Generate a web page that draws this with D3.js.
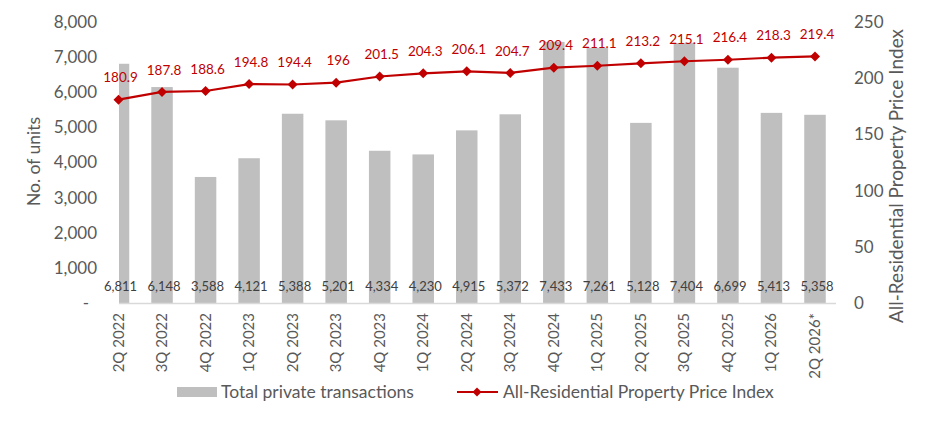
<!DOCTYPE html>
<html><head><meta charset="utf-8">
<script src="https://cdn.jsdelivr.net/npm/d3@7"></script>
<style>body{margin:0;background:#fff;} svg{display:block;font-family:Lato, "Open Sans", sans-serif;}</style>
</head><body>
<svg id="c" width="940" height="422"></svg>
<script>
const categories = ["2Q 2022","3Q 2022","4Q 2022","1Q 2023","2Q 2023","3Q 2023","4Q 2023","1Q 2024","2Q 2024","3Q 2024","4Q 2024","1Q 2025","2Q 2025","3Q 2025","4Q 2025","1Q 2026","2Q 2026*"];
const transactions = [6811,6148,3588,4121,5388,5201,4334,4230,4915,5372,7433,7261,5128,7404,6699,5413,5358];
const priceIndex = [180.9,187.8,188.6,194.8,194.4,196,201.5,204.3,206.1,204.7,209.4,211.1,213.2,215.1,216.4,218.3,219.4];
const leftTicks = [0,1000,2000,3000,4000,5000,6000,7000,8000];
const rightTicks = [0,50,100,150,200,250];
const seriesNames = ["Total private transactions","All-Residential Property Price Index"];

const svg = d3.select("#c");
const plotTop = 22, plotBottom = 303, plotLeft = 119, plotRight = 836;
const x = d3.scalePoint().domain(categories).range([118.5, 815]);
const yL = d3.scaleLinear().domain([0,8000]).range([plotBottom, plotTop]);
const yR = d3.scaleLinear().domain([0,250]).range([plotBottom, plotTop]);
const fmt = d3.format(",");
const grey = "#595959", red = "#C00000", barCol = "#BFBFBF";
const bw = 21.5;

svg.append("clipPath").attr("id","pc").append("rect")
  .attr("x",plotLeft).attr("y",0).attr("width",plotRight-plotLeft).attr("height",plotBottom+1);

// bars
svg.append("g").attr("clip-path","url(#pc)").selectAll("rect").data(transactions).join("rect")
  .attr("x",(d,i)=>x(categories[i])-bw/2).attr("width",bw)
  .attr("y",d=>yL(d)).attr("height",d=>yL(0)-yL(d)).attr("fill",barCol);

// baseline
svg.append("line").attr("x1",plotLeft).attr("x2",plotRight).attr("y1",plotBottom+0.5).attr("y2",plotBottom+0.5)
  .attr("stroke","#D9D9D9").attr("stroke-width",1.5);

// bar labels
svg.append("g").selectAll("text").data(transactions).join("text")
  .attr("x",(d,i)=>x(categories[i])+2).attr("y",286).attr("dy","0.35em")
  .attr("text-anchor","middle").attr("font-size",13).attr("fill","#404040").text(d=>fmt(d));

// left axis
const la = svg.append("g").attr("transform",`translate(97,0)`)
  .call(d3.axisLeft(yL).tickValues(leftTicks).tickSize(0).tickPadding(0).tickFormat(d=>d===0?"-":fmt(d)));
la.select(".domain").remove();
la.selectAll("text").attr("font-size",17).attr("fill",grey).attr("font-family","Lato, sans-serif");
la.selectAll(".tick").filter(d=>d===0).select("text").attr("transform","translate(-8,0)");

// right axis
const ra = svg.append("g").attr("transform",`translate(854,0)`)
  .call(d3.axisRight(yR).tickValues(rightTicks).tickSize(0).tickPadding(0));
ra.select(".domain").remove();
ra.selectAll("text").attr("font-size",17).attr("fill",grey).attr("font-family","Lato, sans-serif");

// axis titles
svg.append("text").attr("transform",`translate(40,161.5) rotate(-90)`)
  .attr("text-anchor","middle").attr("font-size",17.5).attr("fill",grey).text("No. of units");
svg.append("text").attr("transform",`translate(903,176) rotate(-90)`)
  .attr("text-anchor","middle").attr("font-size",19).attr("fill",grey).text("All-Residential Property Price Index");

// category labels
svg.append("g").selectAll("text").data(categories).join("text")
  .attr("transform",d=>`translate(${x(d)+5},313) rotate(-90)`)
  .attr("text-anchor","end").attr("font-size",15).attr("fill",grey).text(d=>d);

// line
const line = d3.line().x((d,i)=>x(categories[i])).y(d=>yR(d));
svg.append("path").datum(priceIndex).attr("d",line).attr("fill","none").attr("stroke",red).attr("stroke-width",2.2);
svg.append("g").selectAll("path").data(priceIndex).join("path")
  .attr("transform",(d,i)=>`translate(${x(categories[i])},${yR(d)}) rotate(45)`)
  .attr("d",d3.symbol().type(d3.symbolSquare).size(50)).attr("fill",red);
svg.append("g").selectAll("text").data(priceIndex).join("text")
  .attr("x",(d,i)=>x(categories[i])+2).attr("y",d=>yR(d)-22).attr("dy","0.35em")
  .attr("text-anchor","middle").attr("font-size",13.5).attr("fill",red).text(d=>d);

// legend
const lg = svg.append("g");
lg.append("rect").attr("x",177).attr("y",387).attr("width",40).attr("height",10).attr("fill",barCol);
lg.append("text").attr("x",221).attr("y",392).attr("dy","0.35em").attr("font-size",17.5).attr("fill",grey).text(seriesNames[0]);
lg.append("line").attr("x1",457).attr("x2",498).attr("y1",392).attr("y2",392).attr("stroke",red).attr("stroke-width",2.2);
lg.append("path").attr("transform","translate(477,392) rotate(45)").attr("d",d3.symbol().type(d3.symbolSquare).size(40)).attr("fill",red);
lg.append("text").attr("x",503).attr("y",392).attr("dy","0.35em").attr("font-size",17.5).attr("fill",grey).text(seriesNames[1]);
</script>
</body></html>
